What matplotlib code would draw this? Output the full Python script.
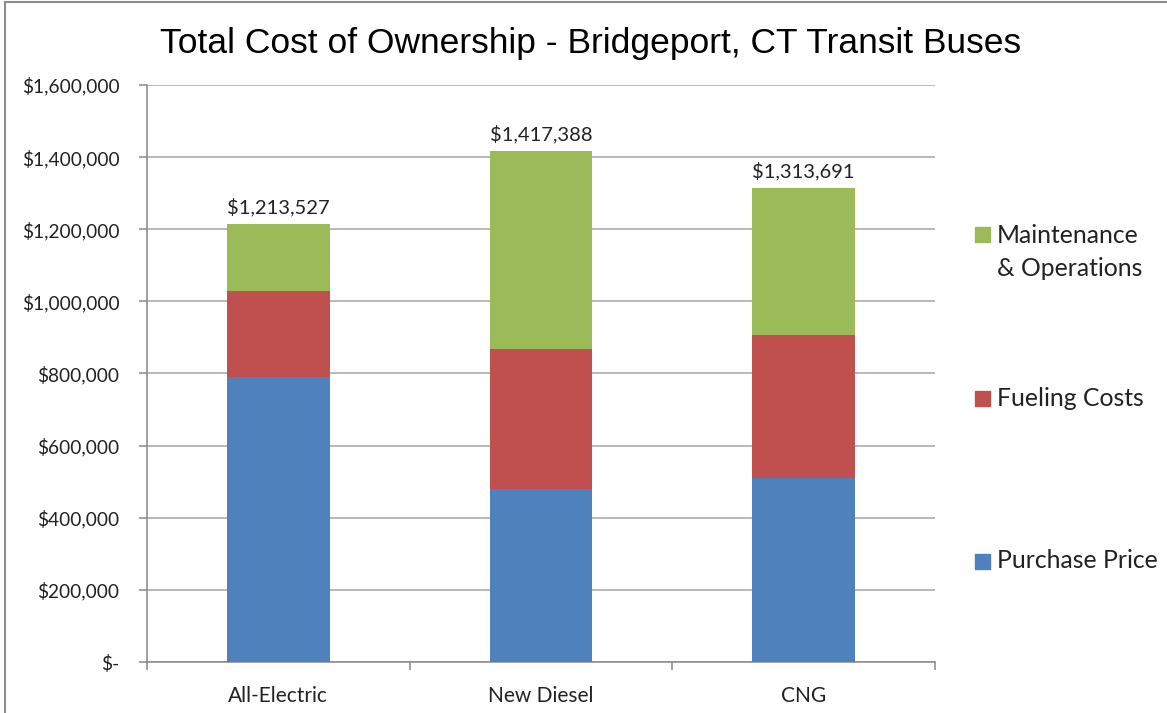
import matplotlib
matplotlib.use("Agg")
import matplotlib.pyplot as plt
from matplotlib.patches import Rectangle
from matplotlib.ticker import FuncFormatter, FixedLocator
import numpy as np

# data
categories = ["All-Electric", "New Diesel", "CNG"]
purchase_price = [790000, 481000, 510000]
fueling_costs = [239000, 388000, 398000]
maintenance_ops = [184527, 548388, 405691]

series_names = ["Purchase Price", "Fueling Costs", "Maintenance\n& Operations"]
colors = ["#4F81BD", "#C0504D", "#9BBB59"]

W, H = 1167, 713
fig = plt.figure(figsize=(W / 100, H / 100), dpi=100)
ax = fig.add_axes([147 / W, 1 - 662 / H, (935 - 147) / W, (662 - 85) / H])

font = "Lato"
x = np.arange(len(categories))
bottom = np.zeros(len(categories))
for vals, col in zip([purchase_price, fueling_costs, maintenance_ops], colors):
    ax.bar(x, vals, width=0.39, bottom=bottom, color=col, edgecolor="none", zorder=3)
    bottom += np.array(vals)

# totals above bars
for xi, tot in zip(x, bottom):
    ax.text(xi, tot + 22000, f"${tot:,.0f}", ha="center", va="bottom",
            fontsize=14.5, family=font, color="#222222")

ax.set_xlim(-0.5, len(categories) - 0.5)
ax.set_ylim(0, 1600000)
ax.set_yticks(np.arange(0, 1600001, 200000))
ax.yaxis.set_major_formatter(FuncFormatter(lambda v, p: "$-" if v == 0 else f"${v:,.0f}"))
ax.grid(axis="y", color="#a6a6a6", linewidth=1.1, zorder=0)

ax.set_xticks(x)
ax.set_xticklabels(categories)
ax.xaxis.set_minor_locator(FixedLocator(np.arange(-0.5, len(categories), 1.0)))
ax.tick_params(axis="x", which="major", length=0, pad=17)
ax.tick_params(axis="x", which="minor", length=6, color="#888888", width=1.1)
ax.tick_params(axis="y", length=6, color="#888888", width=1.1, pad=14)
for lab in ax.get_yticklabels():
    lab.set_family(font)
    lab.set_fontsize(13.8)
    lab.set_color("#222222")
for lab in ax.get_xticklabels():
    lab.set_family(font)
    lab.set_fontsize(15)
    lab.set_color("#222222")

for s in ["top", "right"]:
    ax.spines[s].set_visible(False)
for s in ["left", "bottom"]:
    ax.spines[s].set_color("#888888")
    ax.spines[s].set_linewidth(1.1)

fig.text(591 / W, 1 - 43 / H, "Total Cost of Ownership - Bridgeport, CT Transit Buses",
         ha="center", va="center", fontsize=25.5, family="Liberation Sans", color="black")

# legend drawn at the right side
legend_rows = [(561, series_names[0], colors[0]),
               (398, series_names[1], colors[1]),
               (235, series_names[2], colors[2])]
for ypx, name, col in legend_rows:
    fig.patches.append(Rectangle((975 / W, 1 - (ypx + 7.5) / H), 15 / W, 15 / H,
                                 transform=fig.transFigure, color=col))
    lines = name.split("\n")
    for i, ln in enumerate(lines):
        fig.text(997 / W, 1 - (ypx + 33 * i) / H, ln, ha="left", va="center",
                 fontsize=17.8, family=font, color="#222222")

# chart area border
fig.patches.append(Rectangle((5 / W, -0.05), 1.2, 1 - 2 / H + 0.05,
                             transform=fig.transFigure, fill=False,
                             edgecolor="#8c8c8c", linewidth=1.5))

fig.savefig("out.png", dpi=100)
